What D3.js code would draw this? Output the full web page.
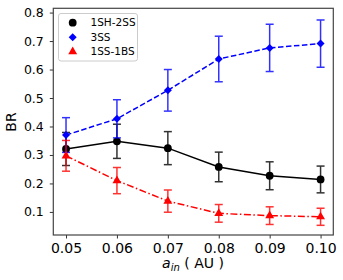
<!DOCTYPE html>
<html><head><meta charset="utf-8">
<script src="https://cdn.jsdelivr.net/npm/d3@7"></script>
<style>body{margin:0;background:#fff}svg{display:block}text{font-family:"DejaVu Sans",sans-serif;fill:#000}</style>
</head><body><svg id="c" width="343" height="280"></svg>
<script>
const xValues = [0.05, 0.06, 0.07, 0.08, 0.09, 0.10];
const xTickLabels = ["0.05","0.06","0.07","0.08","0.09","0.10"];
const yTicks = [0.1,0.2,0.3,0.4,0.5,0.6,0.7,0.8];
const seriesNames = ["1SH-2SS","3SS","1SS-1BS"];
const black = [0.321, 0.348, 0.324, 0.258, 0.227, 0.214];
const blackErr = [0.058, 0.060, 0.058, 0.052, 0.049, 0.047];
const blue = [0.370, 0.427, 0.527, 0.637, 0.676, 0.691];
const blueErr = [0.061, 0.067, 0.073, 0.080, 0.083, 0.083];
const red = [0.297, 0.210, 0.138, 0.095, 0.087, 0.083];
const redErr = [0.054, 0.046, 0.039, 0.031, 0.031, 0.030];

const svg = d3.select("#c");
const L=53.3, R=333.3, T=8.3, B=235;
const x = d3.scaleLinear().domain([0.0475,0.1025]).range([L,R]);
const y = d3.scaleLinear().domain([0.019,0.815]).range([B,T]);

const series = [
  {name:seriesNames[0], v:black, e:blackErr, color:"#000000", dash:null, marker:"circle"},
  {name:seriesNames[1], v:blue, e:blueErr, color:"#0000ff", dash:"5.5,2.5", marker:"diamond"},
  {name:seriesNames[2], v:red, e:redErr, color:"#ff0000", dash:"7,2.5,1.5,2.5", marker:"triangle"}
];
function sym(m){
  if(m==="circle") return d3.symbol().type(d3.symbolCircle).size(48)();
  if(m==="diamond") return d3.symbol().type(d3.symbolSquare).size(32)();
  return d3.symbol().type(d3.symbolTriangle).size(34)();
}
function tf(m){ return m==="diamond" ? " rotate(45)" : ""; }
const plot = svg.append("g");
series.forEach(s=>{
  const g = plot.append("g");
  const line = d3.line().x((d,i)=>x(xValues[i])).y(d=>y(d));
  g.append("path").attr("d",line(s.v)).attr("fill","none").attr("stroke",s.color)
   .attr("stroke-width",1.5).attr("stroke-dasharray",s.dash);
  s.v.forEach((v,i)=>{
    const cx=x(xValues[i]), y1=y(v+s.e[i]), y2=y(v-s.e[i]);
    const eg=g.append("g").attr("stroke",s.color).attr("stroke-width",1.5).attr("opacity",0.8);
    eg.append("line").attr("x1",cx).attr("x2",cx).attr("y1",y1).attr("y2",y2);
    eg.append("line").attr("x1",cx-4).attr("x2",cx+4).attr("y1",y1).attr("y2",y1);
    eg.append("line").attr("x1",cx-4).attr("x2",cx+4).attr("y1",y2).attr("y2",y2);
  });
  s.v.forEach((v,i)=>{
    g.append("path").attr("d",sym(s.marker)).attr("fill",s.color)
     .attr("transform",`translate(${x(xValues[i])},${y(v)})`+tf(s.marker));
  });
});

// axes
const xa = svg.append("g").attr("transform",`translate(0,${B})`)
  .call(d3.axisBottom(x).tickValues(xValues).tickFormat((d,i)=>xTickLabels[i]).tickSize(3.5).tickPadding(5));
xa.selectAll("text").attr("font-size",14).attr("font-family","DejaVu Sans");
const ya = svg.append("g").attr("transform",`translate(${L},0)`)
  .call(d3.axisLeft(y).tickValues(yTicks).tickFormat(d3.format(".1f")).tickSize(3.5).tickPadding(6));
ya.selectAll("text").attr("font-size",12.5).attr("font-family","DejaVu Sans");
[xa,ya].forEach(a=>{a.select(".domain").remove();a.selectAll("line").attr("stroke","#333");});
svg.append("rect").attr("x",L).attr("y",T).attr("width",R-L).attr("height",B-T)
  .attr("fill","none").attr("stroke","#444").attr("stroke-width",1.2);

// labels
svg.append("text").attr("transform",`translate(16,122) rotate(-90)`).attr("text-anchor","middle")
  .attr("font-size",14).text("BR");
const xl = svg.append("text").attr("x",193).attr("y",268).attr("text-anchor","middle").attr("font-size",14);
xl.append("tspan").attr("font-style","italic").text("a");
xl.append("tspan").attr("font-style","italic").attr("font-size",10).attr("dy",3).text("in");
xl.append("tspan").attr("dy",-3).text(" ( AU )");

// legend
const lg = svg.append("g");
lg.append("rect").attr("x",58.5).attr("y",13.5).attr("width",79).attr("height",47.5).attr("rx",2.5)
  .attr("fill","#fff").attr("fill-opacity",0.8).attr("stroke","#ccc").attr("stroke-width",1);
series.forEach((s,i)=>{
  const yy = 22.7 + i*14.5;
  lg.append("path").attr("d",sym(s.marker)).attr("fill",s.color)
    .attr("transform",`translate(72.7,${yy})`+tf(s.marker));
  lg.append("text").attr("x",90.5).attr("y",yy+3.7).attr("font-size",10.5).text(s.name);
});
</script></body></html>
